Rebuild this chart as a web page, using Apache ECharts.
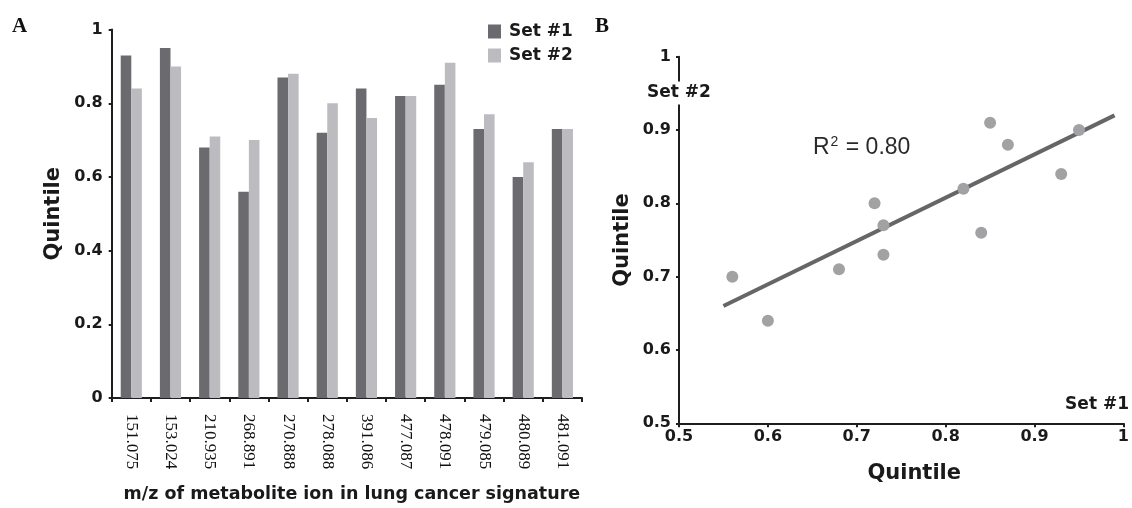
<!DOCTYPE html>
<html>
<head>
<meta charset="utf-8">
<script src="https://cdn.jsdelivr.net/npm/echarts@6/dist/echarts.min.js"></script>
<style>
html,body{margin:0;padding:0;background:#fff;}
#chart{width:1132px;height:508px;}
</style>
</head>
<body>
<div id="chart"></div>
<script>
// m/z of metabolite ions (categories of panel A)
var categories = ['151.075','153.024','210.935','268.891','270.888','278.088','391.086','477.087','478.091','479.085','480.089','481.091'];
// Quintile values per set
var set1 = [0.93,0.95,0.68,0.56,0.87,0.72,0.84,0.82,0.85,0.73,0.60,0.73];
var set2 = [0.84,0.90,0.71,0.70,0.88,0.80,0.76,0.82,0.91,0.77,0.64,0.73];
// regression line endpoints
var trendX = [0.55, 0.99];
var trendY = [0.66, 0.92];
// axis ticks
var yTicksA = { min: 0, max: 1, interval: 0.2 };
var ticksB = { min: 0.5, max: 1, interval: 0.1 };

var SANS = '"DejaVu Sans", sans-serif';
var AX = '#1e1e1e';
var DARK = '#6a6a6f';
var LIGHT = '#bcbcc0';

var scatterData = set1.map(function (v, i) { return [v, set2[i]]; });
var trendData = trendX.map(function (v, i) { return [v, trendY[i]]; });

var chart = echarts.init(document.getElementById('chart'), null, { renderer: 'canvas' });

var axisLabelBold = { fontFamily: SANS, fontWeight: 'bold', fontSize: 16, color: '#1a1a1a' };

chart.setOption({
  animation: false,
  backgroundColor: '#fff',
  grid: [
    { left: 111.7, right: 550, top: 29.6, bottom: 104.7 },
    { left: 679, right: 0, top: 56.7, bottom: 84.7 }
  ],
  legend: {
    data: ['Set #1', 'Set #2'],
    orient: 'vertical',
    left: 488, top: 23, padding: 0,
    itemWidth: 13, itemHeight: 14, itemGap: 7,
    icon: 'rect',
    textStyle: { fontFamily: SANS, fontWeight: 'bold', fontSize: 17, color: '#1a1a1a', padding: [0, 0, 0, 3] }
  },
  xAxis: [
    {
      gridIndex: 0, type: 'category', data: categories,
      axisLine: { lineStyle: { color: AX, width: 2 } },
      axisTick: { show: true, length: 4, lineStyle: { color: AX, width: 2 } },
      axisLabel: { rotate: -90, margin: 16, fontFamily: '"Liberation Serif", serif', fontSize: 17, color: '#111' },
      name: 'm/z of metabolite ion in lung cancer signature',
      nameLocation: 'middle', nameGap: 87,
      nameTextStyle: { fontFamily: SANS, fontWeight: 'bold', fontSize: 17.5, color: '#1a1a1a', padding: [0, 0, 0, 10] }
    },
    {
      gridIndex: 1, type: 'value', min: ticksB.min, max: ticksB.max, interval: ticksB.interval,
      splitLine: { show: false },
      axisLine: { onZero: false, lineStyle: { color: AX, width: 2 } },
      axisTick: { show: true, length: 4, lineStyle: { color: AX, width: 2 } },
      axisLabel: Object.assign({ margin: 6, showMaxLabel: true, hideOverlap: false }, axisLabelBold),
      name: 'Quintile', nameLocation: 'middle', nameGap: 40,
      nameTextStyle: { fontFamily: SANS, fontWeight: 'bold', fontSize: 21, color: '#1a1a1a', padding: [0, 0, 0, 26] }
    }
  ],
  yAxis: [
    {
      gridIndex: 0, type: 'value', min: yTicksA.min, max: yTicksA.max, interval: yTicksA.interval,
      splitLine: { show: false },
      axisLine: { show: true, lineStyle: { color: AX, width: 2 } },
      axisTick: { show: true, length: 3, lineStyle: { color: AX, width: 2 } },
      axisLabel: Object.assign({ margin: 9 }, axisLabelBold),
      name: 'Quintile', nameLocation: 'middle', nameGap: 48,
      nameTextStyle: { fontFamily: SANS, fontWeight: 'bold', fontSize: 21, color: '#1a1a1a' }
    },
    {
      gridIndex: 1, type: 'value', min: ticksB.min, max: ticksB.max, interval: ticksB.interval,
      splitLine: { show: false },
      axisLine: { show: true, onZero: false, lineStyle: { color: AX, width: 2 } },
      axisTick: { show: true, length: 3, lineStyle: { color: AX, width: 2 } },
      axisLabel: Object.assign({ margin: 8 }, axisLabelBold),
      name: 'Quintile', nameLocation: 'middle', nameGap: 46,
      nameTextStyle: { fontFamily: SANS, fontWeight: 'bold', fontSize: 21, color: '#1a1a1a' }
    }
  ],
  series: [
    {
      name: 'Set #1', type: 'bar', xAxisIndex: 0, yAxisIndex: 0, data: set1,
      itemStyle: { color: DARK }, barGap: '0%', barCategoryGap: '46%'
    },
    {
      name: 'Set #2', type: 'bar', xAxisIndex: 0, yAxisIndex: 0, data: set2,
      itemStyle: { color: LIGHT }, barGap: '0%', barCategoryGap: '46%'
    },
    {
      name: 'trend', type: 'line', xAxisIndex: 1, yAxisIndex: 1, data: trendData,
      showSymbol: false, symbol: 'none', lineStyle: { color: '#666668', width: 4 }, z: 3
    },
    {
      name: 'points', type: 'scatter', xAxisIndex: 1, yAxisIndex: 1, data: scatterData,
      symbolSize: 12, itemStyle: { color: '#a2a2a5', opacity: 1 }, z: 4
    }
  ],
  graphic: [
    { type: 'text', x: 12, y: 27, z: 100, style: { text: 'A', font: 'bold 21px "Liberation Serif", serif', fill: '#111', verticalAlign: 'middle' } },
    { type: 'text', x: 595, y: 27, z: 100, style: { text: 'B', font: 'bold 21px "Liberation Serif", serif', fill: '#111', verticalAlign: 'middle' } },
    { type: 'text', x: 813, y: 148, z: 100, style: {
        text: 'R{sup|2} = 0.80', font: '23px "Liberation Sans", sans-serif', fill: '#2a2a2a', verticalAlign: 'middle',
        rich: { sup: { fontSize: 14, fontFamily: '"Liberation Sans", sans-serif', fill: '#2a2a2a', padding: [0, 1, 12, 1] } }
    } },
    { type: 'text', x: 679, y: 93, z: 100, style: {
        text: 'Set #2', font: 'bold 17px "DejaVu Sans", sans-serif', fill: '#1a1a1a', align: 'center', verticalAlign: 'middle',
        backgroundColor: '#fff', padding: [3, 2, 3, 2]
    } },
    { type: 'text', x: 1129, y: 405, z: 100, style: {
        text: 'Set #1', font: 'bold 17px "DejaVu Sans", sans-serif', fill: '#1a1a1a', align: 'right', verticalAlign: 'middle'
    } }
  ]
});
</script>
</body>
</html>
